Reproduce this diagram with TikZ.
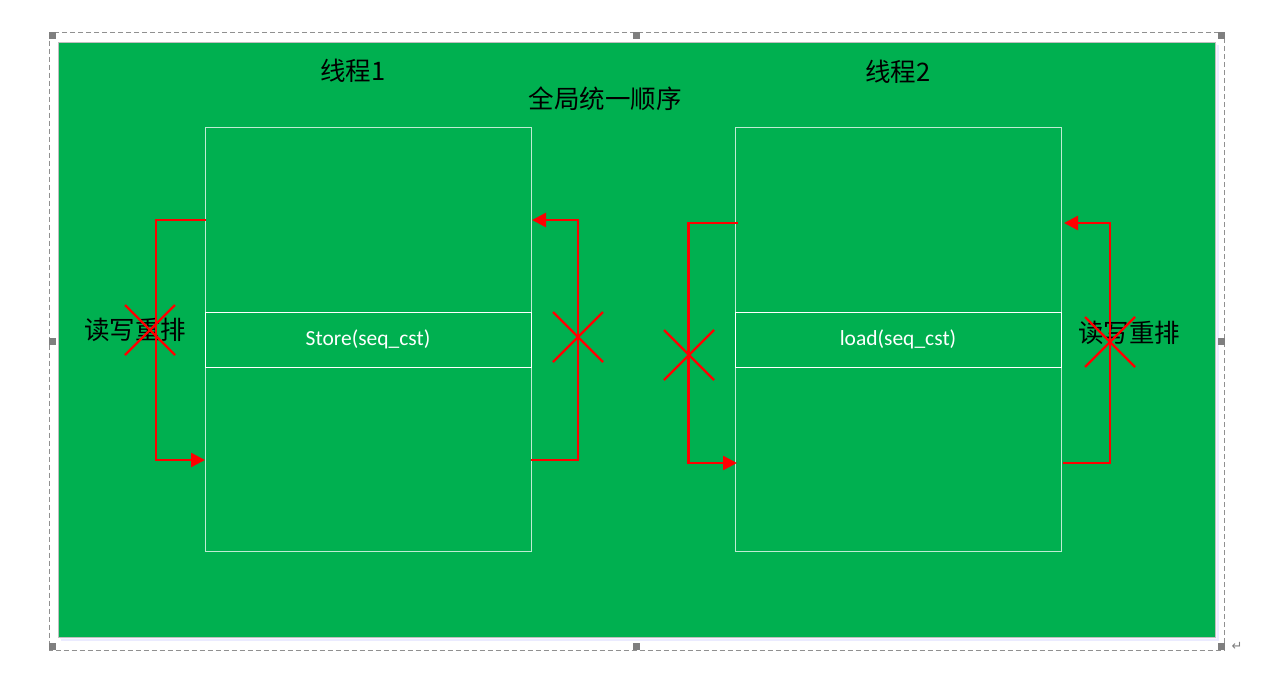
\documentclass[tikz,border=0pt]{standalone}
\usepackage{fontspec}
\setmainfont{Carlito}
\newfontfamily\cjk{Noto Sans CJK SC}
\newfontfamily\dejavu{DejaVu Sans}
\usetikzlibrary{arrows.meta}
\definecolor{officegreen}{HTML}{00B050}
\definecolor{handlegray}{HTML}{7F7F7F}
\definecolor{framegray}{HTML}{909090}
\begin{document}
\begin{tikzpicture}[x=1pt,y=-1pt,
  handle/.style={fill=handlegray,draw=none,minimum size=7pt,inner sep=0pt,outer sep=0pt},
  thread/.style={draw=white,draw opacity=0.75,line width=0.8pt,minimum width=326pt,minimum height=424pt,inner sep=0pt},
  band/.style={draw=white,line width=0.8pt,minimum width=326pt,minimum height=55pt,inner sep=0pt,
    text=white,font=\fontsize{21.5}{24}\selectfont},
  cjklabel/.style={font=\cjk\fontsize{25.5}{28}\selectfont,text=black,inner sep=0pt},
  redline/.style={draw=red,line width=2.5pt},
  redarrow/.style={redline,-{Triangle[length=14pt,width=14pt]}},
  cross/.style={draw=red,line width=2.3pt}
]
\useasboundingbox (0,0) rectangle (1274,673);
\fill[white] (0,0) rectangle (1274,673);
% selection frame
\draw[framegray,line width=1pt,dash pattern=on 5pt off 3pt] (49,32.5) rectangle (1224.5,650);
% shadow and green panel
\fill[blue!8!white] (61,45) rectangle (1219,641);
\fill[blue!4!white] (60,44) rectangle (1217,639);
\node[draw=black!25,line width=1pt,fill=officegreen,minimum width=1157pt,minimum height=595pt,inner sep=0pt] (panel) at (636.5,339.5) {};
% handles
\node[handle] (h1) at (52.5,35.5) {};
\node[handle] (h2) at (636.5,35.5) {};
\node[handle] (h3) at (1221.5,35.5) {};
\node[handle] (h4) at (52.5,341.5) {};
\node[handle] (h5) at (1221.5,341.5) {};
\node[handle] (h6) at (52.5,646.5) {};
\node[handle] (h7) at (636.5,646.5) {};
\node[handle] (h8) at (1221.5,646.5) {};
\node[text=handlegray,font=\dejavu\fontsize{13}{14}\selectfont,inner sep=0pt] (ret) at (1237,646) {↵};
% titles
\node[cjklabel] (t1) at (353,71) {线程1};
\node[cjklabel] (t2) at (898,72) {线程2};
\node[cjklabel] (glob) at (605,99) {全局统一顺序};
% thread boxes
\node[thread] (box1) at (368,339) {};
\node[band] (store) at (368,339.5) {Store(seq\_cst)};
\node[thread] (box2) at (898,339) {};
\node[band] (load) at (898,339.5) {load(seq\_cst)};
% reorder labels
\node[cjklabel] (rw1) at (135,330) {读写重排};
\node[cjklabel] (rw2) at (1129,333) {读写重排};
% arrow corner coordinates
\coordinate (a1s) at (206,220);
\coordinate (a1e) at (205,460);
\coordinate (b1s) at (531,460);
\coordinate (b1e) at (532,220);
\coordinate (a2s) at (738,223);
\coordinate (a2e) at (737,463);
\coordinate (b2s) at (1063,463);
\coordinate (b2e) at (1064,223);
\draw[redarrow] (a1s) -- (156,220) -- (156,460) -- (a1e);
\draw[redarrow] (b1s) -- (578,460) -- (578,220) -- (b1e);
\draw[redarrow] (a2s) -- (688.5,223) -- (688.5,463) -- (a2e);
\draw[redarrow] (b2s) -- (1110,463) -- (1110,223) -- (b2e);
% crosses
\coordinate (x1) at (150,330);
\coordinate (x2) at (578,337);
\coordinate (x3) at (689,355);
\coordinate (x4) at (1110,342);
\foreach \c in {x1,x2,x3,x4}{
  \draw[cross] ([shift={(-25,-25)}]\c) -- ([shift={(25,25)}]\c);
  \draw[cross] ([shift={(25,-25)}]\c) -- ([shift={(-25,25)}]\c);
}
\end{tikzpicture}
\end{document}
